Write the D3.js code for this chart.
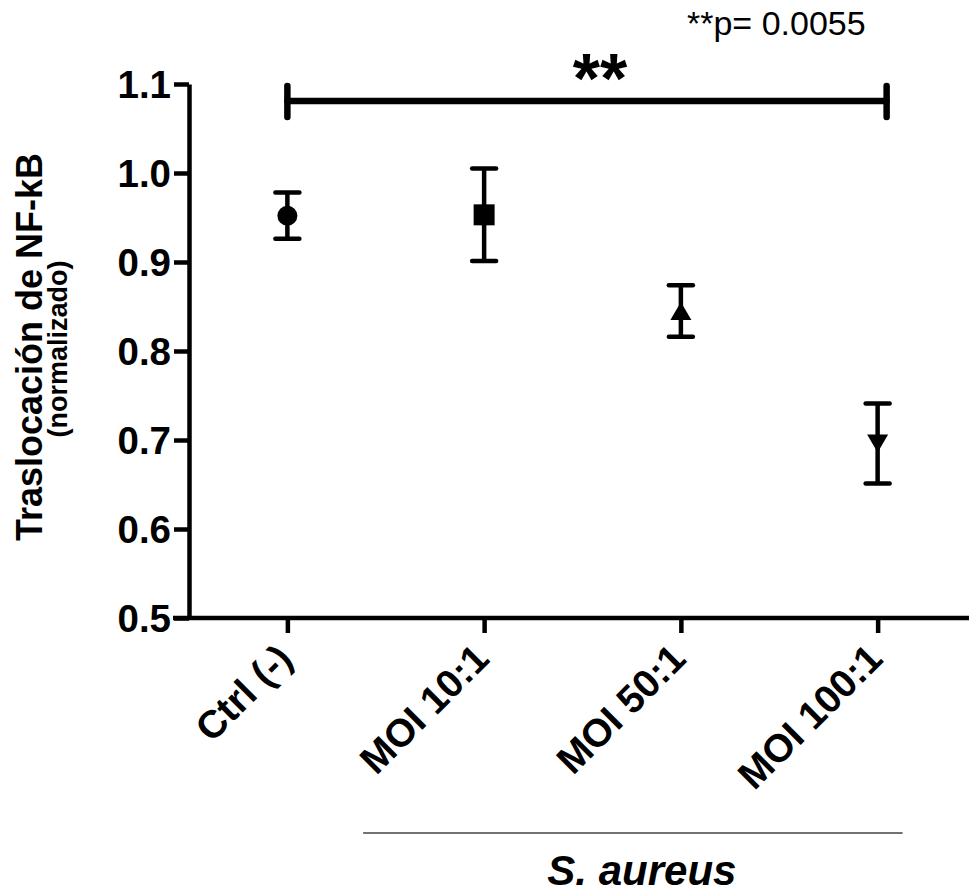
<!DOCTYPE html>
<html>
<head>
<meta charset="utf-8">
<script src="https://cdn.jsdelivr.net/npm/d3@7"></script>
<style>
  html, body { margin: 0; padding: 0; background: #fff; }
  svg { display: block; font-family: "Liberation Sans", Arial, Helvetica, sans-serif; }
</style>
</head>
<body>
<svg id="chart" width="969" height="896"></svg>
<script>
// Groups on the x axis
const categories = ["Ctrl (-)", "MOI 10:1", "MOI 50:1", "MOI 100:1"];
// Mean NF-kB translocation (normalised) and SEM for each group
const means = [0.952, 0.953, 0.845, 0.696];
const sems  = [0.026, 0.052, 0.029, 0.045];
// Marker shape per group
const shapes = ["circle", "square", "triangleUp", "triangleDown"];
// Y axis ticks
const yTicks = [0.5, 0.6, 0.7, 0.8, 0.9, 1.0, 1.1];
const yDomain = [0.5, 1.1];
// Significance annotation
const sigPair = ["Ctrl (-)", "MOI 100:1"];
const sigStars = "**";
const sigNote = "**p= 0.0055";
// Axis titles
const yTitle = "Traslocación de NF-kB";
const ySubtitle = "(normalizado)";
const groupLabel = "S. aureus";
const groupMembers = ["MOI 10:1", "MOI 100:1"];

const svg = d3.select("#chart");
const axisX0 = 189, axisY0 = 618, axisTop = 84;

const x = d3.scalePoint().domain(categories).range([axisX0, 976]).padding(0.5);
const y = d3.scaleLinear().domain(yDomain).range([axisY0, axisTop]);

const strokeW = 4.5;

// Y axis
const gy = svg.append("g")
  .attr("transform", `translate(${axisX0},0)`)
  .call(d3.axisLeft(y).tickValues(yTicks).tickFormat(d3.format(".1f")).tickSize(15).tickSizeOuter(0).tickPadding(3));
gy.select(".domain").attr("stroke", "#000").attr("stroke-width", strokeW);
gy.selectAll(".tick line").attr("stroke", "#000").attr("stroke-width", strokeW);
gy.selectAll(".tick text")
  .attr("fill", "#000")
  .style("font-size", "38.5px")
  .style("font-weight", "bold")
  .attr("dy", "0.36em");

// X axis
const gx = svg.append("g")
  .attr("transform", `translate(0,${axisY0})`)
  .call(d3.axisBottom(x).tickSize(15).tickSizeOuter(0).tickFormat(""));
gx.select(".domain").attr("stroke", "#000").attr("stroke-width", strokeW)
  .attr("d", `M${axisX0 - 16},0H976`);
gx.selectAll(".tick line").attr("stroke", "#000").attr("stroke-width", strokeW);

// Rotated category labels
svg.append("g").selectAll("text")
  .data(categories)
  .join("text")
  .attr("transform", d => `translate(${x(d) + 7},${axisY0 + 43}) rotate(-45)`)
  .attr("text-anchor", "end")
  .style("font-size", "39px")
  .style("font-weight", "bold")
  .attr("fill", "#000")
  .text(d => d);

// Error bars
const capHalf = 12;
const eb = svg.append("g")
  .attr("stroke", "#000")
  .attr("stroke-width", strokeW)
  .attr("stroke-linecap", "round");
categories.forEach((c, i) => {
  const cx = x(c);
  const hi = y(means[i] + sems[i]);
  const lo = y(means[i] - sems[i]);
  eb.append("line").attr("x1", cx).attr("x2", cx).attr("y1", hi).attr("y2", lo).attr("stroke-linecap", "butt");
  eb.append("line").attr("x1", cx - capHalf).attr("x2", cx + capHalf).attr("y1", hi).attr("y2", hi);
  eb.append("line").attr("x1", cx - capHalf).attr("x2", cx + capHalf).attr("y1", lo).attr("y2", lo);
});

// Markers
const markerPath = {
  circle: () => "M0,-10A10,10 0 1,1 0,10A10,10 0 1,1 0,-10Z",
  square: () => "M-10.5,-10.5H10.5V10.5H-10.5Z",
  triangleUp: () => "M0,-9L10.5,9H-10.5Z",
  triangleDown: () => "M0,9L10.5,-9H-10.5Z"
};
svg.append("g").selectAll("path")
  .data(categories)
  .join("path")
  .attr("transform", (d, i) => `translate(${x(d)},${y(means[i])})`)
  .attr("d", (d, i) => markerPath[shapes[i]]())
  .attr("fill", "#000");

// Significance bracket
const sx1 = x(sigPair[0]);
const sx2 = x(sigPair[1]) + 9;
const sy = 101;
const sig = svg.append("g").attr("stroke", "#000").attr("stroke-linecap", "round");
sig.append("line").attr("x1", sx1).attr("x2", sx2).attr("y1", sy).attr("y2", sy).attr("stroke-width", 6.5);
sig.append("line").attr("x1", sx1).attr("x2", sx1).attr("y1", sy - 15).attr("y2", sy + 16).attr("stroke-width", 6.5);
sig.append("line").attr("x1", sx2).attr("x2", sx2).attr("y1", sy - 15).attr("y2", sy + 16).attr("stroke-width", 6.5);

svg.append("text")
  .attr("x", 600).attr("y", 103)
  .attr("text-anchor", "middle")
  .style("font-size", "70px")
  .style("font-weight", "bold")
  .text(sigStars);

svg.append("text")
  .attr("x", 687).attr("y", 35)
  .style("font-size", "34px")
  .text(sigNote);

// Y axis title
svg.append("text")
  .attr("transform", "translate(42,347) rotate(-90)")
  .attr("text-anchor", "middle")
  .style("font-size", "36px")
  .style("font-weight", "bold")
  .text(yTitle);
svg.append("text")
  .attr("transform", "translate(67,349) rotate(-90)")
  .attr("text-anchor", "middle")
  .style("font-size", "27px")
  .style("font-weight", "bold")
  .text(ySubtitle);

// Group bracket below the category labels
const gx1 = x(groupMembers[0]) - 121;
const gx2 = x(groupMembers[1]) + 25;
svg.append("line")
  .attr("x1", gx1).attr("x2", gx2)
  .attr("y1", 833).attr("y2", 833)
  .attr("stroke", "#444").attr("stroke-width", 1.6);
svg.append("text")
  .attr("x", (gx1 + gx2) / 2 + 9).attr("y", 885)
  .attr("text-anchor", "middle")
  .style("font-size", "42px")
  .style("font-weight", "bold")
  .style("font-style", "italic")
  .text(groupLabel);
</script>
</body>
</html>
